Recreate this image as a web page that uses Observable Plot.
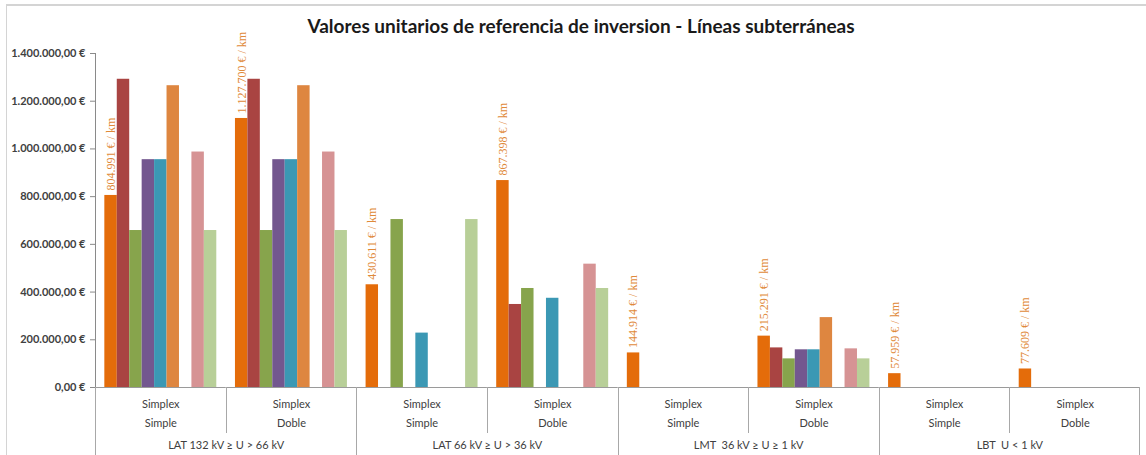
<!DOCTYPE html>
<html>
<head>
<meta charset="utf-8">
<script src="https://cdn.jsdelivr.net/npm/d3@7"></script>
<script src="https://cdn.jsdelivr.net/npm/@observablehq/plot@0.6"></script>
<style>
  body { margin: 0; background: #fff; }
  #wrap { position: relative; width: 1146px; height: 455px; overflow: hidden; background: #fff; }
  #border { position: absolute; left: 6px; top: 4px; right: 0; bottom: -10px; border-top: 2px solid #d4d4d4; border-left: 1px solid #d4d4d4; }
  #title { position: absolute; left: 0; top: 14px; width: 1162px; text-align: center; font-family: Lato, sans-serif; font-weight: bold; font-size: 19px; color: #1a1a1a; }
  #chart { position: absolute; left: 0; top: 0; }
</style>
</head>
<body>
<div id="wrap">
  <div id="border"></div>
  <div id="chart"></div>
  <div id="title">Valores unitarios de referencia de inversion - Líneas subterráneas</div>
</div>
<script>
// ---- Data ----
const subgroups = ["LAT132-Simple", "LAT132-Doble", "LAT66-Simple", "LAT66-Doble", "LMT-Simple", "LMT-Doble", "LBT-Simple", "LBT-Doble"];
const configLabels = ["Simplex", "Simplex", "Simplex", "Simplex", "Simplex", "Simplex", "Simplex", "Simplex"];
const circuitLabels = ["Simple", "Doble", "Simple", "Doble", "Simple", "Doble", "Simple", "Doble"];
const levelLabels = ["LAT 132 kV ≥ U > 66 kV", "LAT 66 kV ≥ U > 36 kV", "LMT  36 kV ≥ U ≥ 1 kV", "LBT  U < 1 kV"];
const series = ["Serie 1", "Serie 2", "Serie 3", "Serie 4", "Serie 5", "Serie 6", "Serie 7", "Serie 8", "Serie 9"];
const colors = ["#E46C0A", "#A94442", "#87A44C", "#73578F", "#3B98B4", "#DE8640", "#FFFFFF", "#D69394", "#B8CF98"];

const serie1 = [804991, 1127700, 430611, 867398, 144914, 215291, 57959, 77609];
const serie2 = [1292000, 1292000, 0, 348000, 0, 166000, 0, 0];
const serie3 = [658000, 658000, 704000, 415000, 0, 120000, 0, 0];
const serie4 = [955000, 955000, 0, 0, 0, 158000, 0, 0];
const serie5 = [955000, 955000, 228000, 374000, 0, 158000, 0, 0];
const serie6 = [1265000, 1265000, 0, 0, 0, 293000, 0, 0];
const serie7 = [0, 0, 0, 0, 0, 0, 0, 0];
const serie8 = [987000, 987000, 0, 517000, 0, 162000, 0, 0];
const serie9 = [658000, 658000, 704000, 415000, 0, 120000, 0, 0];
const allSeries = [serie1, serie2, serie3, serie4, serie5, serie6, serie7, serie8, serie9];

const yTicks = [0, 200000, 400000, 600000, 800000, 1000000, 1200000, 1400000];

// ---- Tables ----
const bars = [];
subgroups.forEach((g, i) => {
  allSeries.forEach((vals, j) => {
    if (vals[i] > 0) bars.push({sub: g, serie: series[j], value: vals[i]});
  });
});
const es = d3.formatLocale({decimal: ",", thousands: ".", grouping: [3], currency: ["", " €"]});
const fmtTick = d => es.format(",.2f")(d) + " €";
const fmtLabel = d => es.format(",.0f")(d) + " € / km";
const labels = subgroups.map((g, i) => ({sub: g, serie: series[0], value: serie1[i], text: fmtLabel(serie1[i])}));
const cats = subgroups.map((g, i) => ({sub: g, config: configLabels[i], circuit: circuitLabels[i]}));
const levels = levelLabels.map((l, k) => ({sub: subgroups[2 * k], text: l}));

const chart = Plot.plot({
  width: 1146,
  height: 455,
  marginLeft: 95,
  marginRight: 6,
  marginTop: 53,
  marginBottom: 68,
  style: {fontFamily: "Lato, sans-serif", fontSize: "11px", background: "transparent", overflow: "visible"},
  fx: {domain: subgroups, padding: 0, round: false, axis: null, label: null},
  x: {domain: series, paddingInner: 0, paddingOuter: 0.75, round: false, axis: null, label: null},
  y: {domain: [0, 1400000], axis: null, label: null},
  color: {domain: series, range: colors},
  marks: [
    Plot.ruleY([0], {stroke: "#9a9a9a"}),
    Plot.barY(bars, {fx: "sub", x: "serie", y: "value", fill: "serie"}),
    Plot.text(labels, {fx: "sub", x: "serie", y: "value", text: "text", rotate: -90, textAnchor: "start", lineAnchor: "middle", dy: -5, fill: "#DF8A3A", fontFamily: "Liberation Serif, serif", fontSize: 12}),
    Plot.axisY({ticks: yTicks, tickFormat: fmtTick, tickSize: 5, tickPadding: 5, color: "#404040", stroke: "#8a8a8a", fontWeight: "bold", label: null}),
    Plot.text(cats, {fx: "sub", frameAnchor: "bottom", text: "config", dy: 20, fill: "#404040"}),
    Plot.text(cats, {fx: "sub", frameAnchor: "bottom", text: "circuit", dy: 39, fill: "#404040"}),
    Plot.text(levels, {fx: "sub", frameAnchor: "bottom-right", textAnchor: "middle", text: "text", dy: 61, fill: "#404040"})
  ]
});

// ---- Category table rules and y-axis line, placed with the plot's own scales ----
const fx = chart.scale("fx");
const y = chart.scale("y");
const svg = d3.select(chart);
const y0 = y.apply(0);
const yTop = y.apply(1400000);
const g = svg.append("g").attr("stroke", "#a8a8a8").attr("stroke-width", 1);
subgroups.forEach((s, i) => {
  const x0 = Math.round(fx.apply(s)) + 0.5;
  g.append("line").attr("x1", x0).attr("x2", x0).attr("y1", y0).attr("y2", i % 2 === 0 ? 455 : y0 + 46);
});
const xr = Math.round(fx.apply(subgroups[subgroups.length - 1]) + fx.bandwidth) - 0.5;
g.append("line").attr("x1", xr).attr("x2", xr).attr("y1", y0).attr("y2", 455);
svg.append("line").attr("stroke", "#8a8a8a").attr("x1", Math.round(fx.apply(subgroups[0])) + 0.5).attr("x2", Math.round(fx.apply(subgroups[0])) + 0.5).attr("y1", yTop).attr("y2", y0);

document.getElementById("chart").append(chart);
</script>
</body>
</html>
